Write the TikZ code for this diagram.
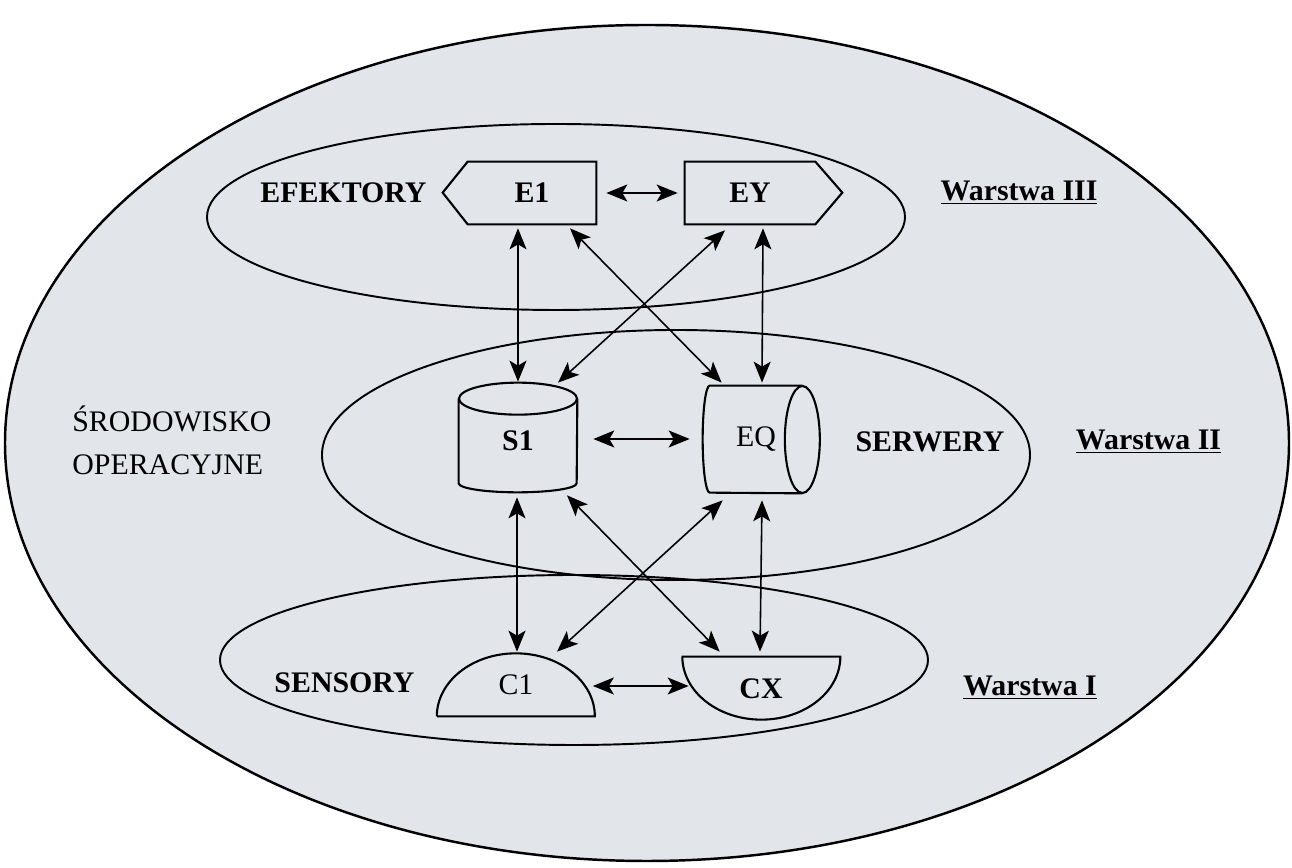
\documentclass[tikz,border=0pt]{standalone}
\usepackage{fontspec}
\setmainfont{Liberation Serif}
\usetikzlibrary{arrows.meta}

\definecolor{envgray}{RGB}{226,229,234}

\tikzset{
    plain/.style={inner sep=0pt, font=\fontsize{17}{24.5}\selectfont},
    bold/.style={inner sep=0pt, font=\fontsize{17}{21}\selectfont\bfseries},
    shapeline/.style={line width=1.2pt},
    link/.style={{Stealth[length=0.42cm,width=0.34cm,inset=0.1cm]}-{Stealth[length=0.42cm,width=0.34cm,inset=0.1cm]}, line width=0.9pt},
}

\begin{document}
\begin{tikzpicture}[x=0.02cm, y=0.02cm]
    \useasboundingbox (0,0) rectangle (1292,868);

    % environment and the three layers
    \draw[line width=1.4pt, fill=envgray] (647,425) ellipse [x radius=642, y radius=418];
    \draw[line width=1.1pt] (556,651) ellipse [x radius=349, y radius=93];
    \draw[line width=1.1pt] (676,413) ellipse [x radius=354, y radius=125];
    \draw[line width=1.1pt] (574,208) ellipse [x radius=354, y radius=85];

    % effectors
    \node[bold, minimum width=2.56cm, minimum height=1.24cm] (E1) at (532,675) {E1};
    \node[bold, minimum width=2.6cm, minimum height=1.24cm] (EY) at (750,675) {EY};
    \draw[shapeline] (E1.north east) -- (E1.north west) -- ++(-25,-31) -- (E1.south west) -- (E1.south east) -- cycle;
    \draw[shapeline] (EY.north west) -- (EY.north east) -- ++(27,-31) -- (EY.south east) -- (EY.south west) -- cycle;

    % servers
    \node[bold, minimum width=2.36cm, minimum height=1.68cm] (S1) at (518,427) {S1};
    \node[plain, minimum width=1.84cm, minimum height=2.14cm] (EQ) at (756,428.5) {EQ};
    \draw[shapeline] (S1.north west) -- (S1.south west) arc[start angle=180, end angle=360, x radius=59, y radius=9] -- (S1.north east);
    \draw[shapeline] (S1.north) ellipse [x radius=59, y radius=16];
    \draw[shapeline] (EQ.north east) -- (EQ.north west) arc[start angle=90, end angle=270, x radius=7, y radius=53.5] -- (EQ.south east);
    \draw[shapeline] (EQ.east) ellipse [x radius=17.5, y radius=53.5];

    % sensors
    \node[plain, minimum width=3.14cm, minimum height=1.26cm] (C1) at (516,183.5) {C1};
    \node[bold, minimum width=3.16cm, minimum height=1.26cm] (CX) at (761,179.5) {CX};
    \draw[shapeline] (C1.south west) -- (C1.south east) arc[start angle=0, end angle=180, x radius=79, y radius=63];
    \draw[shapeline] (CX.north west) -- (CX.north east) arc[start angle=0, end angle=-180, x radius=79, y radius=63];

    % links inside the layers
    \draw[link] ([shift={(10,0)}]E1.east) -- ([shift={(-7,0)}]EY.west);
    \draw[link] ([shift={(16,2)}]S1.east) -- ([shift={(-20,0.5)}]EQ.west);
    \draw[link] ([shift={(-2,-1.5)}]C1.east) -- ([shift={(7,2.5)}]CX.west);

    % links between effectors and servers
    \draw[link] ([shift={(-14,-4)}]E1.south) -- ([shift={(0,17)}]S1.north);
    \draw[link] ([shift={(38,-4)}]E1.south) -- ([shift={(12,3)}]EQ.north west);
    \draw[link] ([shift={(-25,-6)}]EY.south) -- ([shift={(40,16)}]S1.north);
    \draw[link] ([shift={(13,-4)}]EY.south) -- ([shift={(6,3)}]EQ.north);

    % links between servers and sensors
    \draw[link] ([shift={(-1,-14)}]S1.south) -- ([shift={(1,1)}]C1.north);
    \draw[link] ([shift={(49,-12)}]S1.south) -- ([shift={(38,5)}]CX.north west);
    \draw[link] ([shift={(13,-7)}]EQ.south west) -- ([shift={(41,1)}]C1.north);
    \draw[link] ([shift={(6,-7)}]EQ.south) -- ([shift={(-1,5)}]CX.north);

    % names of the groups and layers
    \node[bold] (efektory) at (343.5,675) {EFEKTORY};
    \node[bold] (warstwa3) at (1019,675) {\underline{Warstwa III}};
    \node[plain, align=left, anchor=west] (srodowisko) at (72,427.5) {ŚRODOWISKO\\OPERACYJNE};
    \node[bold] (serwery) at (930,426) {SERWERY};
    \node[bold] (warstwa2) at (1148.5,426) {\underline{Warstwa II}};
    \node[bold] (sensory) at (344.5,185) {SENSORY};
    \node[bold] (warstwa1) at (1030,180) {\underline{Warstwa I}};
\end{tikzpicture}
\end{document}
